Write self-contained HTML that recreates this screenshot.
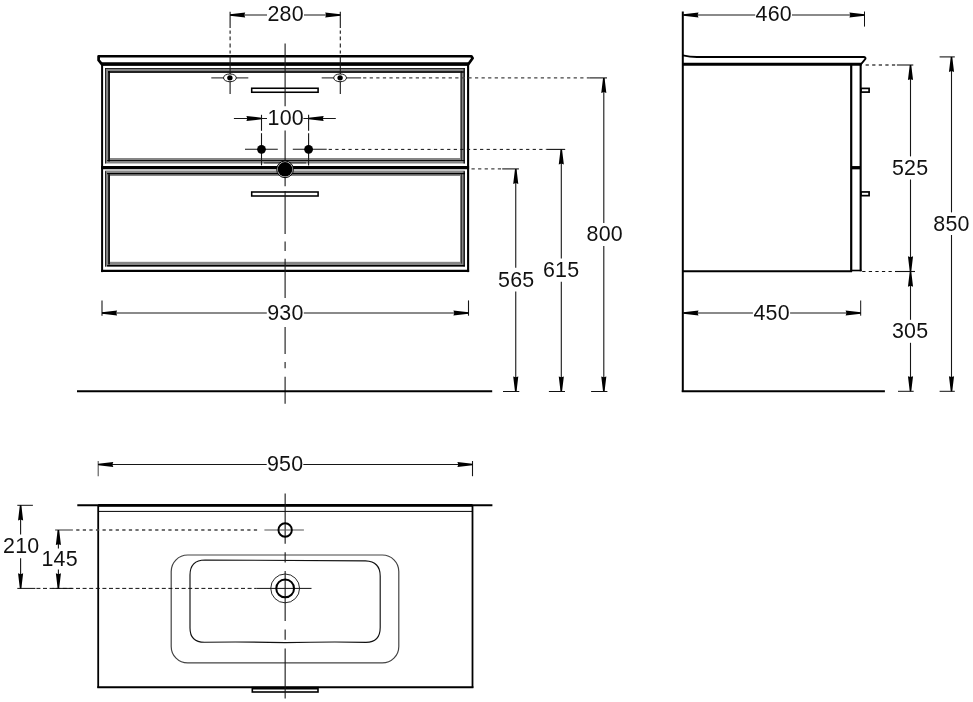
<!DOCTYPE html>
<html lang="en">
<head>
<meta charset="utf-8">
<title>Vanity unit 950 – dimension drawing</title>
<style>
html,body{margin:0;padding:0;background:#fff;}
body{width:973px;height:702px;overflow:hidden;}
svg{display:block;filter:grayscale(1);}
svg text{font-family:"Liberation Sans",sans-serif;fill:#111;}
</style>
</head>
<body>
<svg width="973" height="702" viewBox="0 0 973 702">
<rect width="973" height="702" fill="#fff"/>
<g id="front">
<line x1="109.5" y1="158.7" x2="460.5" y2="158.7" stroke="#858585" stroke-width="1.6"/>
<rect x="107.5" y="70.5" width="354.90000000000003" height="90.60000000000001" fill="none" stroke="#858585" stroke-width="4.8"/>
<line x1="105.55" y1="68.1" x2="105.55" y2="163.5" stroke="#111" stroke-width="0.9"/>
<line x1="109.05" y1="71.1" x2="109.05" y2="161.5" stroke="#000" stroke-width="1.6"/>
<line x1="464.2" y1="68.1" x2="464.2" y2="163.5" stroke="#000" stroke-width="1.2"/>
<line x1="461.40000000000003" y1="71.1" x2="461.40000000000003" y2="160.5" stroke="#222" stroke-width="0.9"/>
<line x1="105.1" y1="68.55" x2="464.8" y2="68.55" stroke="#111" stroke-width="0.9"/>
<line x1="108.1" y1="72.0" x2="463.8" y2="72.0" stroke="#000" stroke-width="1.5"/>
<line x1="107.1" y1="160.5" x2="464.8" y2="160.5" stroke="#000" stroke-width="0.9"/>
<line x1="105.1" y1="171.2" x2="464.8" y2="171.2" stroke="#858585" stroke-width="1.2"/>
<rect x="107.5" y="173.6" width="354.90000000000003" height="90.60000000000004" fill="none" stroke="#858585" stroke-width="4.8"/>
<line x1="105.55" y1="171.2" x2="105.55" y2="266.6" stroke="#111" stroke-width="0.9"/>
<line x1="109.05" y1="174.2" x2="109.05" y2="264.6" stroke="#000" stroke-width="1.6"/>
<line x1="464.2" y1="171.2" x2="464.2" y2="266.6" stroke="#000" stroke-width="1.2"/>
<line x1="461.40000000000003" y1="174.2" x2="461.40000000000003" y2="263.6" stroke="#222" stroke-width="0.9"/>
<line x1="107.1" y1="173.6" x2="464.8" y2="173.6" stroke="#000" stroke-width="1.2"/>
<line x1="107.1" y1="265.8" x2="464.8" y2="265.8" stroke="#000" stroke-width="1.6"/>
<line x1="102.1" y1="64" x2="102.1" y2="272.1" stroke="#000" stroke-width="2.0"/>
<line x1="468.1" y1="64" x2="468.1" y2="272.1" stroke="#000" stroke-width="2.1"/>
<line x1="101.1" y1="270.9" x2="469.1" y2="270.9" stroke="#000" stroke-width="2.4"/>
<line x1="101.1" y1="167.7" x2="469.1" y2="167.7" stroke="#000" stroke-width="3.3"/>
<path d="M98.6 56.25 H471.4 L472.6 58.3 L468.3 64.3 H102.0 L98.6 60.2 Z" fill="#fff" stroke="#000" stroke-width="2.7" stroke-linejoin="round"/>
<line x1="101.6" y1="63.95" x2="468.6" y2="63.95" stroke="#000" stroke-width="3.2"/>
<rect x="251.7" y="88.25" width="66.4" height="4.0" fill="#fff" stroke="#000" stroke-width="1.55"/>
<rect x="251.7" y="192.0" width="66.4" height="4.0" fill="#fff" stroke="#000" stroke-width="1.55"/>
</g>
<line x1="285.1" y1="43.6" x2="285.1" y2="106.3" stroke="#161616" stroke-width="1.1"/>
<line x1="285.1" y1="130.6" x2="285.1" y2="186.2" stroke="#161616" stroke-width="1.1"/>
<line x1="285.1" y1="190.9" x2="285.1" y2="234" stroke="#161616" stroke-width="1.1"/>
<line x1="285.1" y1="241.5" x2="285.1" y2="250.9" stroke="#161616" stroke-width="1.1"/>
<line x1="285.1" y1="258.7" x2="285.1" y2="297.9" stroke="#161616" stroke-width="1.1"/>
<line x1="285.1" y1="327" x2="285.1" y2="354" stroke="#161616" stroke-width="1.1"/>
<line x1="285.1" y1="361.9" x2="285.1" y2="368.2" stroke="#161616" stroke-width="1.1"/>
<line x1="285.1" y1="376.8" x2="285.1" y2="403.7" stroke="#161616" stroke-width="1.1"/>
<line x1="230.1" y1="11.7" x2="230.1" y2="28" stroke="#161616" stroke-width="1.1"/>
<line x1="230.1" y1="30.4" x2="230.1" y2="33.8" stroke="#161616" stroke-width="1.1"/>
<line x1="230.1" y1="36.6" x2="230.1" y2="40.2" stroke="#161616" stroke-width="1.1"/>
<line x1="230.1" y1="43.4" x2="230.1" y2="47.4" stroke="#161616" stroke-width="1.1"/>
<line x1="230.1" y1="50.4" x2="230.1" y2="53.6" stroke="#161616" stroke-width="1.1"/>
<line x1="230.1" y1="55.6" x2="230.1" y2="94" stroke="#161616" stroke-width="1.1"/>
<line x1="340.3" y1="11.7" x2="340.3" y2="28" stroke="#161616" stroke-width="1.1"/>
<line x1="340.3" y1="30.4" x2="340.3" y2="33.8" stroke="#161616" stroke-width="1.1"/>
<line x1="340.3" y1="36.6" x2="340.3" y2="40.2" stroke="#161616" stroke-width="1.1"/>
<line x1="340.3" y1="43.4" x2="340.3" y2="47.4" stroke="#161616" stroke-width="1.1"/>
<line x1="340.3" y1="50.4" x2="340.3" y2="53.6" stroke="#161616" stroke-width="1.1"/>
<line x1="340.3" y1="55.6" x2="340.3" y2="94" stroke="#161616" stroke-width="1.1"/>
<line x1="230.1" y1="15.0" x2="267.0" y2="15.0" stroke="#161616" stroke-width="1.1"/>
<line x1="304.0" y1="15.0" x2="340.3" y2="15.0" stroke="#161616" stroke-width="1.1"/>
<polygon points="230.10,14.25 245.20,12.45 244.30,15.00 245.20,17.55 230.10,15.75" fill="#000"/>
<polygon points="340.30,14.25 325.20,12.45 326.10,15.00 325.20,17.55 340.30,15.75" fill="#000"/>
<text x="285.62" y="21.05" font-size="21.4" letter-spacing="0.25" text-anchor="middle">280</text>
<line x1="211.3" y1="77.9" x2="248.3" y2="77.9" stroke="#444" stroke-width="1.1"/>
<ellipse cx="229.9" cy="77.85" rx="6.4" ry="3.9" fill="#fff" stroke="#000" stroke-width="0.9"/>
<ellipse cx="229.9" cy="77.85" rx="2.7" ry="2.6" fill="#000"/>
<line x1="321.7" y1="77.9" x2="361.1" y2="77.9" stroke="#444" stroke-width="1.1"/>
<ellipse cx="340.1" cy="77.85" rx="6.4" ry="3.9" fill="#fff" stroke="#000" stroke-width="0.9"/>
<ellipse cx="340.1" cy="77.85" rx="2.7" ry="2.6" fill="#000"/>
<line x1="233.9" y1="118.5" x2="267.0" y2="118.5" stroke="#161616" stroke-width="1.1"/>
<line x1="303.4" y1="118.5" x2="335.8" y2="118.5" stroke="#161616" stroke-width="1.1"/>
<polygon points="261.50,117.75 246.40,115.95 247.30,118.50 246.40,121.05 261.50,119.25" fill="#000"/>
<polygon points="308.60,117.75 323.70,115.95 322.80,118.50 323.70,121.05 308.60,119.25" fill="#000"/>
<text x="285.77" y="124.85" font-size="21.4" letter-spacing="0.25" text-anchor="middle">100</text>
<line x1="261.5" y1="114.8" x2="261.5" y2="130.8" stroke="#161616" stroke-width="1.1"/>
<line x1="261.5" y1="133.2" x2="261.5" y2="165.4" stroke="#161616" stroke-width="1.1"/>
<line x1="308.6" y1="114.8" x2="308.6" y2="130.8" stroke="#161616" stroke-width="1.1"/>
<line x1="308.6" y1="133.2" x2="308.6" y2="165.4" stroke="#161616" stroke-width="1.1"/>
<line x1="245" y1="149.3" x2="277.8" y2="149.3" stroke="#161616" stroke-width="1.1"/>
<line x1="292.8" y1="149.3" x2="326.7" y2="149.3" stroke="#161616" stroke-width="1.1"/>
<circle cx="261.5" cy="149.3" r="4.4" fill="#000"/>
<circle cx="308.6" cy="149.3" r="4.4" fill="#000"/>
<line x1="264" y1="162.9" x2="306" y2="162.9" stroke="#222" stroke-width="0.9"/>
<circle cx="285.05" cy="169.3" r="8.35" fill="#ddd" stroke="#000" stroke-width="1.0"/>
<circle cx="285.05" cy="169.3" r="7.3" fill="#000"/>
<line x1="361.1" y1="77.9" x2="589.3" y2="77.9" stroke="#444" stroke-width="1.3" stroke-dasharray="3.25 3.33" stroke-dashoffset="-2"/>
<line x1="589.3" y1="77.9" x2="607.0" y2="77.9" stroke="#161616" stroke-width="1.1"/>
<line x1="326.7" y1="149.4" x2="546.7" y2="149.4" stroke="#111" stroke-width="1.0" stroke-dasharray="3.25 3.33" stroke-dashoffset="-2"/>
<line x1="546.7" y1="149.4" x2="565.2" y2="149.4" stroke="#161616" stroke-width="1.1"/>
<line x1="469.5" y1="168.9" x2="502.2" y2="168.9" stroke="#444" stroke-width="1.3" stroke-dasharray="3.25 3.33" stroke-dashoffset="-2"/>
<line x1="502.2" y1="168.9" x2="518.9" y2="168.9" stroke="#161616" stroke-width="1.1"/>
<line x1="515.75" y1="168.9" x2="515.75" y2="267.8" stroke="#161616" stroke-width="1.1"/>
<line x1="515.75" y1="291.5" x2="515.75" y2="391.5" stroke="#161616" stroke-width="1.1"/>
<polygon points="515.00,168.90 513.20,184.00 515.75,183.10 518.30,184.00 516.50,168.90" fill="#000"/>
<polygon points="515.00,391.50 513.20,376.40 515.75,377.30 518.30,376.40 516.50,391.50" fill="#000"/>
<text x="516.23" y="287.05" font-size="21.4" letter-spacing="0.25" text-anchor="middle">565</text>
<line x1="561.3" y1="149.4" x2="561.3" y2="258.5" stroke="#161616" stroke-width="1.1"/>
<line x1="561.3" y1="281.7" x2="561.3" y2="391.5" stroke="#161616" stroke-width="1.1"/>
<polygon points="560.55,149.40 558.75,164.50 561.30,163.60 563.85,164.50 562.05,149.40" fill="#000"/>
<polygon points="560.55,391.50 558.75,376.40 561.30,377.30 563.85,376.40 562.05,391.50" fill="#000"/>
<text x="561.12" y="276.65" font-size="21.4" letter-spacing="0.25" text-anchor="middle">615</text>
<line x1="603.8" y1="77.9" x2="603.8" y2="223.0" stroke="#161616" stroke-width="1.1"/>
<line x1="603.8" y1="246.0" x2="603.8" y2="391.5" stroke="#161616" stroke-width="1.1"/>
<polygon points="603.05,77.90 601.25,93.00 603.80,92.10 606.35,93.00 604.55,77.90" fill="#000"/>
<polygon points="603.05,391.50 601.25,376.40 603.80,377.30 606.35,376.40 604.55,391.50" fill="#000"/>
<text x="604.73" y="241.05" font-size="21.4" letter-spacing="0.25" text-anchor="middle">800</text>
<line x1="503" y1="391.5" x2="519.3" y2="391.5" stroke="#111" stroke-width="1.0"/>
<line x1="548.9" y1="391.5" x2="565" y2="391.5" stroke="#111" stroke-width="1.0"/>
<line x1="591.1" y1="391.5" x2="607.4" y2="391.5" stroke="#111" stroke-width="1.0"/>
<line x1="77" y1="391.3" x2="492.2" y2="391.3" stroke="#000" stroke-width="2.0"/>
<line x1="102.0" y1="300.4" x2="102.0" y2="315.7" stroke="#161616" stroke-width="1.1"/>
<line x1="468.5" y1="300.4" x2="468.5" y2="315.7" stroke="#161616" stroke-width="1.1"/>
<line x1="102.0" y1="313.0" x2="266.8" y2="313.0" stroke="#161616" stroke-width="1.1"/>
<line x1="303.8" y1="313.0" x2="468.5" y2="313.0" stroke="#161616" stroke-width="1.1"/>
<polygon points="102.00,312.25 117.10,310.45 116.20,313.00 117.10,315.55 102.00,313.75" fill="#000"/>
<polygon points="468.50,312.25 453.40,310.45 454.30,313.00 453.40,315.55 468.50,313.75" fill="#000"/>
<text x="285.43" y="319.85" font-size="21.4" letter-spacing="0.25" text-anchor="middle">930</text>
<g id="side">
<line x1="682.8" y1="11.5" x2="682.8" y2="392" stroke="#000" stroke-width="2.0"/>
<line x1="681.8" y1="391.3" x2="884.9" y2="391.3" stroke="#000" stroke-width="2.0"/>
<path d="M682.8 55.3 Q690 56.9 697 57 H863.6 Q866.4 57.3 865.2 59.2 L860.9 64.3" fill="none" stroke="#000" stroke-width="1.8" stroke-linejoin="round"/>
<line x1="682.8" y1="64.25" x2="861.6" y2="64.25" stroke="#000" stroke-width="3.2"/>
<line x1="682.8" y1="271.15" x2="852" y2="271.15" stroke="#000" stroke-width="2.0"/>
<line x1="851.2" y1="64" x2="851.2" y2="271.6" stroke="#000" stroke-width="2.2"/>
<line x1="860.65" y1="64" x2="860.65" y2="271.2" stroke="#000" stroke-width="2.1"/>
<line x1="851.2" y1="270.5" x2="861.5" y2="270.5" stroke="#000" stroke-width="1.6"/>
<line x1="851.2" y1="167.7" x2="861" y2="167.7" stroke="#000" stroke-width="3.3"/>
<rect x="861.1" y="88.4" width="8.0" height="3.7" fill="#fff" stroke="#000" stroke-width="1.7"/>
<rect x="861.1" y="191.95" width="8.0" height="3.7" fill="#fff" stroke="#000" stroke-width="1.7"/>
</g>
<line x1="864.5" y1="11.5" x2="864.5" y2="26.6" stroke="#111" stroke-width="1.0"/>
<line x1="683.4" y1="15.0" x2="755.2" y2="15.0" stroke="#161616" stroke-width="1.1"/>
<line x1="792.0" y1="15.0" x2="864.5" y2="15.0" stroke="#161616" stroke-width="1.1"/>
<polygon points="683.40,14.25 698.50,12.45 697.60,15.00 698.50,17.55 683.40,15.75" fill="#000"/>
<polygon points="864.50,14.25 849.40,12.45 850.30,15.00 849.40,17.55 864.50,15.75" fill="#000"/>
<text x="773.73" y="21.05" font-size="21.4" letter-spacing="0.25" text-anchor="middle">460</text>
<line x1="860.7" y1="300.5" x2="860.7" y2="315.7" stroke="#111" stroke-width="1.0"/>
<line x1="683.4" y1="313.0" x2="752.9" y2="313.0" stroke="#161616" stroke-width="1.1"/>
<line x1="790.1" y1="313.0" x2="860.7" y2="313.0" stroke="#161616" stroke-width="1.1"/>
<polygon points="683.40,312.25 698.50,310.45 697.60,313.00 698.50,315.55 683.40,313.75" fill="#000"/>
<polygon points="860.70,312.25 845.60,310.45 846.50,313.00 845.60,315.55 860.70,313.75" fill="#000"/>
<text x="771.62" y="319.85" font-size="21.4" letter-spacing="0.25" text-anchor="middle">450</text>
<line x1="865.3" y1="65" x2="896.9" y2="65" stroke="#444" stroke-width="1.3" stroke-dasharray="3.25 3.33" stroke-dashoffset="-0.3"/>
<line x1="896.9" y1="65" x2="913.3" y2="65" stroke="#161616" stroke-width="1.1"/>
<line x1="910.5" y1="65" x2="910.5" y2="156.4" stroke="#161616" stroke-width="1.1"/>
<line x1="910.5" y1="179.5" x2="910.5" y2="271.4" stroke="#161616" stroke-width="1.1"/>
<polygon points="909.75,65.00 907.95,80.10 910.50,79.20 913.05,80.10 911.25,65.00" fill="#000"/>
<polygon points="909.75,271.40 907.95,256.30 910.50,257.20 913.05,256.30 911.25,271.40" fill="#000"/>
<text x="910.12" y="174.75" font-size="21.4" letter-spacing="0.25" text-anchor="middle">525</text>
<line x1="861.8" y1="271.5" x2="895" y2="271.5" stroke="#111" stroke-width="1.1" stroke-dasharray="3.25 3.33" stroke-dashoffset="-0.4"/>
<line x1="895" y1="271.5" x2="915" y2="271.5" stroke="#111" stroke-width="1.1"/>
<line x1="910.5" y1="271.6" x2="910.5" y2="319.8" stroke="#161616" stroke-width="1.1"/>
<line x1="910.5" y1="342.8" x2="910.5" y2="391.3" stroke="#161616" stroke-width="1.1"/>
<polygon points="909.75,271.60 907.95,286.70 910.50,285.80 913.05,286.70 911.25,271.60" fill="#000"/>
<polygon points="909.75,391.30 907.95,376.20 910.50,377.10 913.05,376.20 911.25,391.30" fill="#000"/>
<text x="910.12" y="337.65" font-size="21.4" letter-spacing="0.25" text-anchor="middle">305</text>
<line x1="898" y1="391.3" x2="913.7" y2="391.3" stroke="#111" stroke-width="1.0"/>
<line x1="939.6" y1="56.9" x2="954.8" y2="56.9" stroke="#161616" stroke-width="1.1"/>
<line x1="939.6" y1="391.3" x2="954.8" y2="391.3" stroke="#111" stroke-width="1.0"/>
<line x1="951.5" y1="56.9" x2="951.5" y2="212.4" stroke="#161616" stroke-width="1.1"/>
<line x1="951.5" y1="235.0" x2="951.5" y2="391.3" stroke="#161616" stroke-width="1.1"/>
<polygon points="950.75,56.90 948.95,72.00 951.50,71.10 954.05,72.00 952.25,56.90" fill="#000"/>
<polygon points="950.75,391.30 948.95,376.20 951.50,377.10 954.05,376.20 952.25,391.30" fill="#000"/>
<text x="951.52" y="230.65" font-size="21.4" letter-spacing="0.25" text-anchor="middle">850</text>
<g id="top">
<line x1="77.3" y1="505.35" x2="492.4" y2="505.35" stroke="#000" stroke-width="2.0"/>
<line x1="98.2" y1="505.3" x2="472.5" y2="505.3" stroke="#000" stroke-width="2.8"/>
<line x1="98.2" y1="511.4" x2="472.5" y2="511.4" stroke="#000" stroke-width="1.0"/>
<line x1="98.2" y1="505" x2="98.2" y2="687.8" stroke="#000" stroke-width="1.8"/>
<line x1="472.5" y1="505" x2="472.5" y2="687.8" stroke="#000" stroke-width="1.8"/>
<line x1="97.3" y1="687.2" x2="473.4" y2="687.2" stroke="#000" stroke-width="1.9"/>
<rect x="252.3" y="687.6" width="65.7" height="4.4" fill="#fff" stroke="#000" stroke-width="1.6"/>
<line x1="252.3" y1="688.2" x2="318.0" y2="688.2" stroke="#000" stroke-width="2.6"/>
<rect x="171.2" y="555" width="227.6" height="107.9" rx="16.5" fill="none" stroke="#444" stroke-width="1.2"/>
<path d="M205 560.0 Q285 560.6 365.5 560.9 Q380.2 561.5 380.2 576 V627.5 Q380.2 642.3 366 642.3 Q330 641.6 285 642.6 Q240 641.6 204.5 642.3 Q190 642.3 190 628 V575 Q190 560.2 205 560.0 Z" fill="none" stroke="#111" stroke-width="1.15"/>
</g>
<line x1="285.15" y1="493.6" x2="285.15" y2="543.7" stroke="#161616" stroke-width="1.1"/>
<line x1="285.15" y1="552.3" x2="285.15" y2="562.5" stroke="#161616" stroke-width="1.1"/>
<line x1="285.15" y1="571" x2="285.15" y2="621" stroke="#161616" stroke-width="1.1"/>
<line x1="285.15" y1="629.6" x2="285.15" y2="639.8" stroke="#161616" stroke-width="1.1"/>
<line x1="285.15" y1="648.4" x2="285.15" y2="698.5" stroke="#161616" stroke-width="1.1"/>
<line x1="264.4" y1="530" x2="303.9" y2="530" stroke="#555" stroke-width="1.1"/>
<circle cx="285.15" cy="530" r="6.7" fill="none" stroke="#000" stroke-width="1.9"/>
<line x1="256.6" y1="588.4" x2="311.5" y2="588.4" stroke="#111" stroke-width="1.0"/>
<circle cx="285.15" cy="588.4" r="14.4" fill="none" stroke="#111" stroke-width="0.9"/>
<circle cx="285.15" cy="588.4" r="8.9" fill="none" stroke="#000" stroke-width="2.0"/>
<line x1="98.2" y1="461" x2="98.2" y2="476.2" stroke="#555" stroke-width="1.1"/>
<line x1="472.5" y1="461" x2="472.5" y2="476.2" stroke="#161616" stroke-width="1.1"/>
<line x1="98.2" y1="464.5" x2="266.7" y2="464.5" stroke="#161616" stroke-width="1.1"/>
<line x1="303.3" y1="464.5" x2="472.5" y2="464.5" stroke="#161616" stroke-width="1.1"/>
<polygon points="98.20,463.75 113.30,461.95 112.40,464.50 113.30,467.05 98.20,465.25" fill="#000"/>
<polygon points="472.50,463.75 457.40,461.95 458.30,464.50 457.40,467.05 472.50,465.25" fill="#000"/>
<text x="285.12" y="470.95" font-size="21.4" letter-spacing="0.25" text-anchor="middle">950</text>
<line x1="72.4" y1="530" x2="260" y2="530" stroke="#444" stroke-width="1.3" stroke-dasharray="3.25 3.33" stroke-dashoffset="-3.8"/>
<line x1="55.1" y1="530" x2="72.4" y2="530" stroke="#444" stroke-width="1.1"/>
<line x1="35.4" y1="588.4" x2="256.6" y2="588.4" stroke="#111" stroke-width="1.0" stroke-dasharray="4 2.6" stroke-dashoffset="-1"/>
<line x1="17.3" y1="588.4" x2="35.4" y2="588.4" stroke="#111" stroke-width="1.0"/>
<line x1="52.6" y1="588.4" x2="72.4" y2="588.4" stroke="#111" stroke-width="1.0"/>
<line x1="17.3" y1="505.3" x2="32.9" y2="505.3" stroke="#111" stroke-width="1.0"/>
<line x1="20.6" y1="505.3" x2="20.6" y2="534.4" stroke="#161616" stroke-width="1.1"/>
<line x1="20.6" y1="558.3" x2="20.6" y2="588.4" stroke="#161616" stroke-width="1.1"/>
<polygon points="19.85,505.30 18.05,520.40 20.60,519.50 23.15,520.40 21.35,505.30" fill="#000"/>
<polygon points="19.85,588.40 18.05,573.30 20.60,574.20 23.15,573.30 21.35,588.40" fill="#000"/>
<text x="21.23" y="553.05" font-size="21.4" letter-spacing="0.25" text-anchor="middle">210</text>
<line x1="58.4" y1="530" x2="58.4" y2="548.5" stroke="#161616" stroke-width="1.1"/>
<line x1="58.4" y1="569.5" x2="58.4" y2="588.4" stroke="#161616" stroke-width="1.1"/>
<polygon points="57.65,530.00 55.85,545.10 58.40,544.20 60.95,545.10 59.15,530.00" fill="#000"/>
<polygon points="57.65,588.40 55.85,573.30 58.40,574.20 60.95,573.30 59.15,588.40" fill="#000"/>
<text x="59.62" y="565.95" font-size="21.4" letter-spacing="0.25" text-anchor="middle">145</text>
</svg>
</body>
</html>
